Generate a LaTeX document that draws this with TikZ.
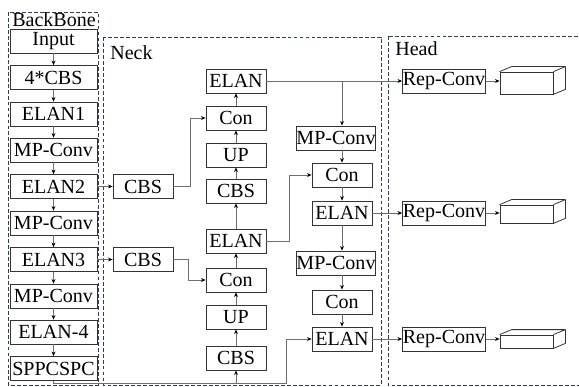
\documentclass[tikz,border=0pt]{standalone}
\usepackage{fontspec}
\setmainfont{Liberation Serif}
\usetikzlibrary{arrows.meta,calc}
\definecolor{framec}{RGB}{45,60,95}
\definecolor{linec}{RGB}{110,110,110}
\begin{document}
\begin{tikzpicture}[
        font=\fontsize{11.4}{13}\selectfont,
        blk/.style={
            draw=black!80,
            line width=0.45pt,
            inner sep=0pt,
            minimum height=0.48cm,
            minimum width=#1
        },
        blk/.default=1.2cm,
        link/.style={draw=linec, line width=0.45pt, -{Stealth[length=2.6pt,width=2.2pt,black]}},
        region/.style={draw=framec, line width=0.5pt, dash pattern=on 2.2pt off 1.2pt},
        cube/.style={draw=black!80, line width=0.45pt, inner sep=0pt, minimum width=1.06cm, minimum height=#1}
    ]

        \useasboundingbox (0,0) rectangle (11.58,-7.74);

        \draw[region] (0.16,-0.24) rectangle (1.96,-7.70);
        \draw[region] (2.06,-0.74) rectangle (7.62,-7.70);
        \draw[region] (7.76,-0.72) rectangle (11.70,-7.70);

        \node[inner sep=0pt] (bbl) at (1.08,-0.39) {BackBone};
        \node[inner sep=0pt, anchor=west] (neckl) at (2.20,-1.06) {Neck};
        \node[inner sep=0pt, anchor=west] (headl) at (7.90,-0.98) {Head};

        \node[blk=1.74cm] (in) at (1.07,-0.82) {Input};
        \node[blk=1.74cm] (cbs4) at (1.07,-1.55) {4*CBS};
        \node[blk=1.74cm] (elan1) at (1.07,-2.28) {ELAN1};
        \node[blk=1.74cm] (mp1) at (1.07,-3.00) {MP-Conv};
        \node[blk=1.74cm] (elan2) at (1.07,-3.73) {ELAN2};
        \node[blk=1.74cm] (mp2) at (1.07,-4.46) {MP-Conv};
        \node[blk=1.74cm] (elan3) at (1.07,-5.19) {ELAN3};
        \node[blk=1.74cm] (mp3) at (1.07,-5.92) {MP-Conv};
        \node[blk=1.74cm] (elan4) at (1.07,-6.64) {ELAN-4};
        \node[blk=1.74cm] (spp) at (1.07,-7.37) {SPPCSPC};

        \node[blk] (cbsS1) at (2.86,-3.73) {CBS};
        \node[blk] (cbsS2) at (2.86,-5.19) {CBS};

        \node[blk] (elanT) at (4.72,-1.62) {ELAN};
        \node[blk] (conT) at (4.72,-2.36) {Con};
        \node[blk] (upT) at (4.72,-3.10) {UP};
        \node[blk] (cbsT) at (4.72,-3.82) {CBS};
        \node[blk] (elanM) at (4.72,-4.82) {ELAN};
        \node[blk] (conM) at (4.72,-5.60) {Con};
        \node[blk] (upM) at (4.72,-6.34) {UP};
        \node[blk] (cbsM) at (4.72,-7.16) {CBS};

        \node[blk=1.56cm] (mpR1) at (6.72,-2.76) {MP-Conv};
        \node[blk] (conR1) at (6.84,-3.50) {Con};
        \node[blk] (elanR1) at (6.84,-4.26) {ELAN};
        \node[blk=1.56cm] (mpR2) at (6.72,-5.26) {MP-Conv};
        \node[blk] (conR2) at (6.84,-6.04) {Con};
        \node[blk] (elanR2) at (6.84,-6.78) {ELAN};

        \node[blk=1.66cm] (rep1) at (8.88,-1.62) {Rep-Conv};
        \node[blk=1.66cm] (rep2) at (8.88,-4.26) {Rep-Conv};
        \node[blk=1.66cm] (rep3) at (8.88,-6.78) {Rep-Conv};

        \node[cube=0.44cm] (box1) at (10.53,-1.66) {};
        \node[cube=0.36cm] (box2) at (10.53,-4.28) {};
        \node[cube=0.26cm] (box3) at (10.53,-6.83) {};
        \foreach \b in {box1,box2,box3}
            \draw[draw=black!80, line width=0.45pt, line join=round]
                (\b.north west) -- ++(0.24,0.1) -- ($(\b.north east)+(0.24,0.1)$)
                -- ($(\b.south east)+(0.24,0.1)$) -- (\b.south east)
                (\b.north east) -- ++(0.24,0.1);

        \draw[link] (in) -- (cbs4);
        \draw[link] (cbs4) -- (elan1);
        \draw[link] (elan1) -- (mp1);
        \draw[link] (mp1) -- (elan2);
        \draw[link] (elan2) -- (mp2);
        \draw[link] (mp2) -- (elan3);
        \draw[link] (elan3) -- (mp3);
        \draw[link] (mp3) -- (elan4);
        \draw[link] (elan4) -- (spp);

        \draw[link] (elan2) -- (cbsS1);
        \draw[link] (elan3) -- (cbsS2);
        \draw[link] (cbsS1.east) -- ++(0.34,0) |- (conT.west);
        \draw[link] (cbsS2.east) -- ++(0.30,0) |- (conM.west);

        \draw[link] (cbsM) -- (upM);
        \draw[link] (upM) -- (conM);
        \draw[link] (conM) -- (elanM);
        \draw[link] (elanM) -- (cbsT);
        \draw[link] (cbsT) -- (upT);
        \draw[link] (upT) -- (conT);
        \draw[link] (conT) -- (elanT);

        \coordinate (bus) at (4.72,-7.66);
        \coordinate (turn) at (5.72,-7.66);
        \draw[link] (spp.south) |- (bus) -- (cbsM.south);
        \draw[link] (bus) -- (turn) |- (elanR2.west);

        \draw[link] (elanT) -- (rep1);
        \draw[link] (elanT.east -| conR1) -- (mpR1.north -| conR1);
        \draw[link] (mpR1.south -| conR1) -- (conR1);
        \draw[link] (conR1) -- (elanR1);
        \draw[link] (elanM.east) -- ++(0.46,0) |- (conR1.west);
        \draw[link] (elanR1) -- (rep2);
        \draw[link] (elanR1) -- (mpR2.north -| elanR1);
        \draw[link] (mpR2.south -| conR2) -- (conR2);
        \draw[link] (conR2) -- (elanR2);
        \draw[link] (elanR2) -- (rep3);

        \draw[link] (rep1.east) -- (rep1.east -| box1.west);
        \draw[link] (rep2.east) -- (rep2.east -| box2.west);
        \draw[link] (rep3.east) -- (rep3.east -| box3.west);

    \end{tikzpicture}
\end{document}
